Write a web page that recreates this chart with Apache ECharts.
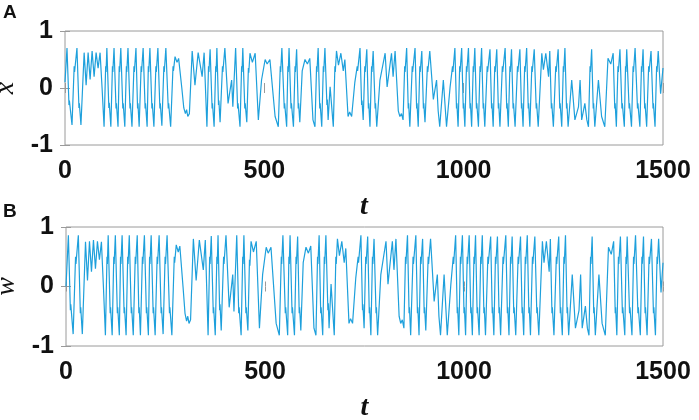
<!DOCTYPE html>
<html><head><meta charset="utf-8">
<script src="https://cdn.jsdelivr.net/npm/echarts@6/dist/echarts.min.js"></script>
<style>html,body{margin:0;padding:0;background:#fff}#c{width:699px;height:420px}</style>
</head><body><div id="c"></div>
<script>
const tTicks = [0, 500, 1000, 1500];
const yTicks = [-1, 0, 1];
const panelLabels = ['A', 'B'];
const yNames = ['x', 'w'];
const xName = 't';

// x(t): [t, x]
const xSeries = [[0,0.1],[5,0.70],[10,-0.3],[11,-0.22],[17.6,-0.65],[23,0.38],[24,0.28],[30,0.70],[35,-0.35],[36,-0.27],[40,-0.65],[48,0.62],[53,0.05],[58,0.62],[63,0.15],[68,0.65],[73,0.2],[78,0.62],[83,0.35],[88,0.62],[93,0.0],[98,-0.68],
[102,0.38],[103,0.28],[105,0.70],[110,-0.35],[111,-0.26],[115,-0.68],[119,0.38],[120,0.28],[123,0.70],[128,-0.36],[129,-0.27],[133,-0.68],[136,0.38],[137,0.28],[140,0.70],[145,-0.36],[146,-0.27],[150,-0.68],[154,0.38],[155,0.28],[158,0.70],[163,-0.36],[164,-0.27],[168,-0.68],[173,0.38],[174,0.28],[178,0.70],[182,-0.36],[183,-0.27],[186,-0.68],[191,0.38],[192,0.28],[196,0.70],[201,-0.36],[202,-0.27],[206,-0.68],[209,0.38],[210,0.28],[213,0.70],[218,-0.36],[219,-0.27],[223,-0.68],[228,0.38],[229,0.28],[233,0.70],[238,-0.36],[239,-0.27],[243,-0.66],[248,0.38],[249,0.28],[253,0.70],[259,-0.36],[260,-0.27],[265,-0.68],[271,0.38],[272,0.3],[276,0.55],[281,0.45],[285,0.52],[293,0.0],[298,-0.35],[302,-0.45],[305,-0.38],[308,-0.5],[312,-0.45],[319,0.65],[326,0.05],[334,0.62],[344,0.2],[349,0.62],[356,-0.68],[360,0.38],[361,0.28],[364,0.68],[369,-0.36],[370,-0.27],[374,-0.68],[378,0.38],[379,0.28],[381,0.70],[385,-0.3],[386,-0.22],[389,-0.6],[395,0.38],[396,0.28],[401,0.70],[409,-0.27],[418,0.14],[421,-0.33],[428,0.70],[433,-0.36],[434,-0.27],[439,-0.68],[443,0.38],[444,0.28],[446,0.70],[451,-0.36],[452,-0.27],[456,-0.6],[460,0.35],[461,0.27],[464,0.61],[470,0.45],[477,0.61],[485,-0.56],[493,0.14],[502,0.5],[507,0.42],[514,0.5],[527,-0.5],[535,-0.68],[540,0.38],[541,0.28],[544,0.70],[550,-0.36],[551,-0.27],[556,-0.68],[559,0.38],[560,0.28],[562,0.70],[567,-0.36],[568,-0.27],[573,-0.68],[577,0.38],[578,0.28],[581,0.68],[585,-0.36],[586,-0.27],[589,-0.6],[595,0.3],[602,0.5],[608,0.42],[614,0.52],[622,-0.56],[627,-0.68],[631,0.38],[632,0.28],[635,0.70],[639,-0.36],[640,-0.27],[644,-0.68],[648,0.38],[649,0.28],[652,0.70],[657,-0.3],[658,-0.2],[660,-0.56],[665,0.02],[673,-0.68],[677,0.38],[678,0.28],[681,0.65],[686,0.4],[692,0.61],[698,0.3],[702,0.5],[710,-0.5],[714,-0.42],[719,-0.5],[727,0.1],[733,0.38],[734,0.3],[740,0.70],[744,-0.3],[745,-0.22],[748,-0.56],[752,0.38],[753,0.28],[757,0.68],[761,-0.36],[762,-0.27],[765,-0.68],[769,0.38],[770,0.28],[773,0.65],
[778,-0.36],[779,-0.27],[782,-0.68],[790,0.14],[803,0.61],[808,0.02],[819,0.61],[823,0.2],[828,0.65],[836,-0.4],[840,-0.5],[844,-0.45],[848,-0.56],[852,0.38],[853,0.28],[857,0.70],[861,-0.36],[862,-0.27],[865,-0.68],[871,0.38],[872,0.28],[878,0.70],[882,-0.36],[883,-0.27],[886,-0.68],[890,0.38],[891,0.28],[895,0.65],[899,-0.36],[900,-0.27],[903,-0.6],[909,0.38],[910,0.28],[915,0.65],[924,-0.2],[932,0.14],[936,-0.4],[940,-0.68],[949,0.14],[957,-0.68],[966,0.02],[972,0.38],[973,0.28],[978,0.70],[982,-0.36],[983,-0.27],[986,-0.68],[990,0.38],[991,0.28],[995,0.70],[999,-0.36],[1000,-0.27],[1003,-0.68],[1007,0.38],[1008,0.28],[1012,0.70],[1016,-0.36],[1017,-0.27],[1020,-0.68],[1024,0.38],[1025,0.28],[1028,0.70],[1032,-0.36],[1033,-0.27],[1037,-0.68],[1041,0.38],[1042,0.28],[1045,0.70],[1049,-0.36],[1050,-0.27],[1053,-0.68],[1059,0.38],[1060,0.28],[1066,0.68],[1070,-0.36],[1071,-0.27],[1074,-0.68],[1078,0.38],[1079,0.28],[1083,0.68],[1087,-0.36],[1088,-0.27],[1091,-0.68],[1097,0.38],[1098,0.28],[1104,0.70],[1108,-0.36],[1109,-0.27],[1112,-0.68],[1116,0.38],[1117,0.28],[1120,0.68],[1124,-0.36],[1125,-0.27],[1129,-0.68],[1135,0.38],[1136,0.28],[1141,0.68],[1145,-0.36],[1146,-0.27],[1149,-0.68],[1153,0.38],[1154,0.28],[1158,0.70],[1162,-0.36],[1163,-0.27],[1166,-0.68],[1171,0.38],[1172,0.28],[1177,0.68],[1182,-0.36],[1183,-0.27],[1187,-0.68],[1196,0.61],[1200,0.32],[1206,0.61],[1213,0.2],[1216,0.65],[1220,-0.36],[1221,-0.27],[1225,-0.68],[1231,0.38],[1232,0.28],[1237,0.68],[1241,-0.36],[1242,-0.27],[1246,-0.68],[1250,0.38],[1251,0.28],[1254,0.70],[1258,-0.36],[1259,-0.27],[1262,-0.68],[1271,0.14],[1279,-0.56],[1288,-0.33],[1292,0.14],[1296,-0.56],[1304,-0.27],[1309,-0.56],[1313,-0.68],[1317,0.38],[1318,0.28],[1321,0.68],[1325,-0.36],[1326,-0.27],[1329,-0.68],[1338,0.14],[1346,-0.5],[1354,-0.68],[1362,0.52],[1369,0.42],[1375,0.61],[1379,-0.36],[1380,-0.27],[1383,-0.68],[1387,0.38],[1388,0.28],[1392,0.68],[1397,-0.36],[1398,-0.27],[1403,-0.68],[1406,0.38],[1407,0.28],[1409,0.68],[1415,-0.36],[1416,-0.27],[1421,-0.68],[1425,0.38],[1426,0.28],[1430,0.70],[1436,-0.36],[1437,-0.27],[1442,-0.68],[1446,0.38],[1447,0.28],[1450,0.68],[1454,-0.36],[1455,-0.27],[1459,-0.68],[1464,0.38],[1465,0.28],[1470,0.65],[1475,-0.36],[1476,-0.27],[1480,-0.68],[1484,0.38],[1485,0.28],[1488,0.65],[1494,-0.1],[1500,0.35]];

// w(t): [t, w]
const wSeries = [[0,0.0],[6,0.86],[11,-0.4],[12,-0.3],[18,-0.8],[24,0.5],[25,0.38],[31,0.86],[36,-0.45],[37,-0.35],[41,-0.8],[49,0.75],[54,0.1],[59,0.76],[64,0.25],[69,0.78],[74,0.3],[79,0.76],[84,0.45],[89,0.75],[94,0.0],[99,-0.82],
[103,0.5],[104,0.38],[106,0.86],[111,-0.45],[112,-0.35],[116,-0.82],[120,0.5],[121,0.38],[124,0.86],[129,-0.45],[130,-0.35],[134,-0.82],[137,0.5],[138,0.38],[141,0.86],[146,-0.45],[147,-0.35],[151,-0.82],[155,0.5],[156,0.38],[159,0.86],[164,-0.45],[165,-0.35],[169,-0.82],[174,0.5],[175,0.38],[179,0.86],[183,-0.45],[184,-0.35],[187,-0.82],[192,0.5],[193,0.38],[197,0.86],[202,-0.45],[203,-0.35],[207,-0.82],[210,0.5],[211,0.38],[214,0.86],[219,-0.45],[220,-0.35],[224,-0.82],[229,0.5],[230,0.38],[234,0.86],[239,-0.45],[240,-0.35],[244,-0.8],[249,0.5],[250,0.38],[254,0.86],[260,-0.45],[261,-0.35],[266,-0.82],[272,0.5],[273,0.4],[277,0.7],[282,0.58],[286,0.68],[294,0.0],[299,-0.45],[303,-0.58],[306,-0.5],[309,-0.62],[313,-0.56],[320,0.8],[327,0.1],[335,0.78],[345,0.28],[350,0.78],[357,-0.82],[361,0.5],[362,0.38],[365,0.85],[370,-0.45],[371,-0.35],[375,-0.82],[379,0.5],[380,0.38],[382,0.86],[386,-0.4],[387,-0.3],[390,-0.74],[396,0.5],[397,0.38],[402,0.86],[410,-0.35],[419,0.2],[422,-0.42],[429,0.86],[434,-0.45],[435,-0.35],[440,-0.82],[444,0.5],[445,0.38],[447,0.86],[452,-0.45],[453,-0.35],[457,-0.74],[461,0.45],[462,0.35],[465,0.76],[471,0.58],[478,0.76],[486,-0.7],[494,0.2],[503,0.66],[508,0.56],[515,0.66],[528,-0.62],[536,-0.82],[541,0.5],[542,0.38],[545,0.86],[551,-0.45],[552,-0.35],[557,-0.82],[560,0.5],[561,0.38],[563,0.86],[568,-0.45],[569,-0.35],[574,-0.82],[578,0.5],[579,0.38],[582,0.84],[586,-0.45],[587,-0.35],[590,-0.74],[596,0.4],[603,0.66],[609,0.56],[615,0.68],[623,-0.7],[628,-0.82],[632,0.5],[633,0.38],[636,0.86],[640,-0.45],[641,-0.35],[645,-0.82],[649,0.5],[650,0.38],[653,0.86],[658,-0.4],[659,-0.28],[661,-0.7],[666,0.04],[674,-0.82],[678,0.5],[679,0.38],[682,0.8],[687,0.52],[693,0.76],[699,0.4],[703,0.64],[711,-0.62],[715,-0.54],[720,-0.62],[728,0.14],[734,0.5],[735,0.4],[741,0.86],[745,-0.4],[746,-0.3],[749,-0.7],[753,0.5],[754,0.38],[758,0.84],[762,-0.45],[763,-0.35],[766,-0.82],[770,0.5],[771,0.38],[774,0.8],
[779,-0.45],[780,-0.35],[783,-0.82],[791,0.2],[804,0.76],[809,0.04],[820,0.76],[824,0.28],[829,0.8],[837,-0.5],[841,-0.62],[845,-0.56],[849,-0.7],[853,0.5],[854,0.38],[858,0.86],[862,-0.45],[863,-0.35],[866,-0.82],[872,0.5],[873,0.38],[879,0.86],[883,-0.45],[884,-0.35],[887,-0.82],[891,0.5],[892,0.38],[896,0.8],[900,-0.45],[901,-0.35],[904,-0.74],[910,0.5],[911,0.38],[916,0.8],[925,-0.25],[933,0.2],[937,-0.5],[941,-0.82],[950,0.2],[958,-0.82],[967,0.04],[973,0.5],[974,0.38],[979,0.86],[983,-0.45],[984,-0.35],[987,-0.82],[991,0.5],[992,0.38],[996,0.86],[1000,-0.45],[1001,-0.35],[1004,-0.82],[1008,0.5],[1009,0.38],[1013,0.86],[1017,-0.45],[1018,-0.35],[1021,-0.82],[1025,0.5],[1026,0.38],[1029,0.86],[1033,-0.45],[1034,-0.35],[1038,-0.82],[1042,0.5],[1043,0.38],[1046,0.86],[1050,-0.45],[1051,-0.35],[1054,-0.82],[1060,0.5],[1061,0.38],[1067,0.84],[1071,-0.45],[1072,-0.35],[1075,-0.82],[1079,0.5],[1080,0.38],[1084,0.84],[1088,-0.45],[1089,-0.35],[1092,-0.82],[1098,0.5],[1099,0.38],[1105,0.86],[1109,-0.45],[1110,-0.35],[1113,-0.82],[1117,0.5],[1118,0.38],[1121,0.84],[1125,-0.45],[1126,-0.35],[1130,-0.82],[1136,0.5],[1137,0.38],[1142,0.84],[1146,-0.45],[1147,-0.35],[1150,-0.82],[1154,0.5],[1155,0.38],[1159,0.86],[1163,-0.45],[1164,-0.35],[1167,-0.82],[1172,0.5],[1173,0.38],[1178,0.84],[1183,-0.45],[1184,-0.35],[1188,-0.82],[1197,0.76],[1201,0.4],[1207,0.76],[1214,0.25],[1217,0.8],[1221,-0.45],[1222,-0.35],[1226,-0.82],[1232,0.5],[1233,0.38],[1238,0.84],[1242,-0.45],[1243,-0.35],[1247,-0.82],[1251,0.5],[1252,0.38],[1255,0.86],[1259,-0.45],[1260,-0.35],[1263,-0.82],[1272,0.2],[1280,-0.7],[1289,-0.4],[1293,0.2],[1297,-0.7],[1305,-0.33],[1310,-0.7],[1314,-0.82],[1318,0.5],[1319,0.38],[1322,0.84],[1326,-0.45],[1327,-0.35],[1330,-0.82],[1339,0.2],[1347,-0.62],[1355,-0.82],[1363,0.66],[1370,0.54],[1376,0.76],[1380,-0.45],[1381,-0.35],[1384,-0.82],[1388,0.5],[1389,0.38],[1393,0.84],[1398,-0.45],[1399,-0.35],[1404,-0.82],[1407,0.5],[1408,0.38],[1410,0.84],[1416,-0.45],[1417,-0.35],[1422,-0.82],[1426,0.5],[1427,0.38],[1431,0.86],[1437,-0.45],[1438,-0.35],[1443,-0.82],[1447,0.5],[1448,0.38],[1451,0.84],[1455,-0.45],[1456,-0.35],[1460,-0.82],[1465,0.5],[1466,0.38],[1471,0.8],[1476,-0.45],[1477,-0.35],[1481,-0.82],[1485,0.5],[1486,0.38],[1489,0.8],[1495,-0.1],[1500,0.4]];

const chart = echarts.init(document.getElementById('c'), null, {renderer: 'canvas'});
const lineColor = '#1ea0dc';
const boxColor = '#9a9a9a';
const labelFont = {fontFamily: 'Liberation Sans, Arial, sans-serif', fontWeight: 'bold', fontSize: 25, color: '#111'};

const grids = [
  {left: 65, top: 31, width: 598, height: 114},
  {left: 66, top: 227, width: 597, height: 119}
];

function xAx(i) {
  return [{
    gridIndex: i, type: 'value', min: tTicks[0], max: tTicks[tTicks.length-1], interval: 500,
    axisLine: {show: false}, splitLine: {show: false},
    axisTick: {inside: true, length: 5, lineStyle: {color: boxColor}},
    axisLabel: Object.assign({margin: 14, formatter: v => String(v)}, labelFont),
    name: xName, nameLocation: 'middle', nameGap: 48,
    nameTextStyle: {fontFamily: 'Liberation Serif, Times New Roman, serif', fontStyle: 'italic', fontWeight: 'bold', fontSize: 28, color: '#111'}
  }, {
    gridIndex: i, type: 'value', position: 'top', min: 0, max: 1500, interval: 500,
    axisLine: {show: false}, splitLine: {show: false}, axisLabel: {show: false},
    axisTick: {inside: true, length: 5, lineStyle: {color: boxColor}}
  }];
}
function yAx(i) {
  return [{
    gridIndex: i, type: 'value', min: yTicks[0], max: yTicks[yTicks.length-1], interval: 1,
    axisLine: {show: false}, splitLine: {show: false},
    axisTick: {inside: true, length: 5, lineStyle: {color: boxColor}},
    axisLabel: Object.assign({margin: 12, formatter: v => String(v)}, labelFont),
    name: yNames[i], nameLocation: 'middle', nameGap: 43, nameRotate: 90,
    nameTextStyle: {fontFamily: 'Liberation Serif, Times New Roman, serif', fontStyle: 'italic', fontSize: 28, color: '#111'}
  }, {
    gridIndex: i, type: 'value', position: 'right', min: -1, max: 1, interval: 1,
    axisLine: {show: false}, splitLine: {show: false}, axisLabel: {show: false},
    axisTick: {inside: true, length: 5, lineStyle: {color: boxColor}}
  }];
}

const option = {
  backgroundColor: '#fff',
  animation: false,
  grid: grids.map(g => Object.assign({show: true, borderColor: boxColor, borderWidth: 1, backgroundColor: 'transparent', containLabel: false, outerBoundsMode: 'none'}, g)),
  xAxis: [...xAx(0), ...xAx(1)],
  yAxis: [...yAx(0), ...yAx(1)],
  graphic: [
    {type: 'text', left: 3, top: 3, style: {text: panelLabels[0], font: 'bold 19px Liberation Sans, Arial, sans-serif', fill: '#111'}},
    {type: 'text', left: 3, top: 202, style: {text: panelLabels[1], font: 'bold 19px Liberation Sans, Arial, sans-serif', fill: '#111'}}
  ],
  series: [
    {type: 'line', xAxisIndex: 0, yAxisIndex: 0, data: xSeries, showSymbol: false, symbol: 'none', sampling: null,
     lineStyle: {color: lineColor, width: 1.2}, itemStyle: {color: lineColor}},
    {type: 'line', xAxisIndex: 2, yAxisIndex: 2, data: wSeries, showSymbol: false, symbol: 'none', sampling: null,
     lineStyle: {color: lineColor, width: 1.2}, itemStyle: {color: lineColor}}
  ]
};
chart.setOption(option);
</script></body></html>
